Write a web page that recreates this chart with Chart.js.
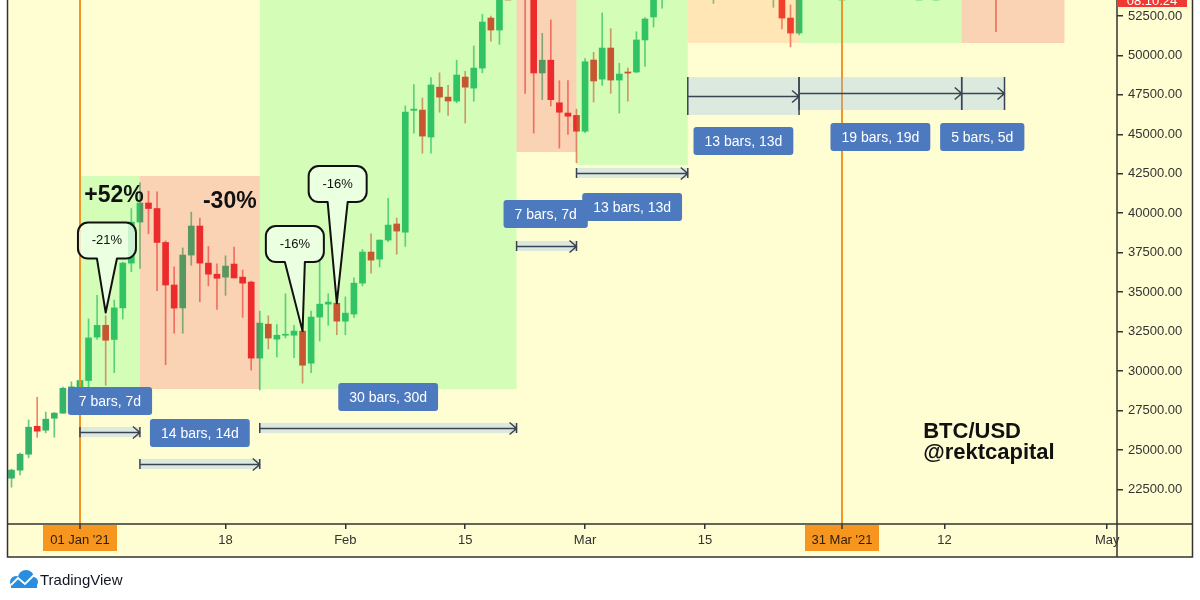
<!DOCTYPE html>
<html>
<head>
<meta charset="utf-8">
<title>BTC/USD daily - rektcapital</title>
<script src="https://cdn.jsdelivr.net/npm/chart.js@4.4.1/dist/chart.umd.min.js"></script>
<style>
    html, body { margin: 0; padding: 0; background: #ffffff; }
    canvas { display: block; }
</style>
</head>
<body>
<canvas id="btcChart" width="1200" height="600"></canvas>
<script>
// --- Candle data (daily, first candle 24 Dec 2020) ---
const firstDate = '2020-12-24';
const opens = [
    23210, 23720, 24730, 26500, 26250, 27010, 27330, 28910,
    29000, 29400, 32150, 32900, 32000, 34000, 36840, 39440, 40650, 40300, 38150, 35450, 34000, 37350, 39190, 36840,
    36140, 35950, 36780, 35950, 35640, 30820, 32970, 32020, 32270, 32270, 32530, 30500, 33420, 34240, 34300,
    33160, 33610, 35570, 37540, 37090, 38300, 39320, 38800, 46520, 46540, 44830, 47990, 47360, 47110, 48630, 47930,
    49200, 52370, 51610, 55900, 55850, 57450, 54100, 48890, 49700, 47000, 46350, 46200,
    45200, 49710, 48500, 50470, 48440, 48950, 48950, 50980, 52440, 54900, 55900, 57800, 57300, 61200, 59000, 55600,
    56900, 58900, 57700, 58300, 58100, 57400, 54100, 54300, 52370, 51420, 55100, 55900, 55800, 57600, 58800,
    58800, 58700, 59000, 57100, 58200, 59100, 58000, 56000, 58100, 58100, 59800, 59800, 60000, 63600, 62900, 63200,
    61400, 60000
];
const highs = [
    23780, 24800, 26900, 28340, 27400, 27380, 28990, 29320,
    29600, 33300, 34800, 33500, 34500, 36900, 40300, 41950, 41400, 41350, 38250, 36600, 37800, 40070, 39700, 37900,
    36800, 37300, 37850, 36400, 35700, 33800, 33500, 32950, 34900, 32900, 32550, 33800, 37000, 34900, 34400,
    34700, 35900, 37700, 38700, 38300, 40950, 39700, 46800, 48150, 47300, 48600, 48900, 48100, 49700, 49000, 50600,
    52600, 52500, 56300, 57500, 58350, 57550, 54200, 51400, 52250, 48400, 48400, 46600,
    49800, 50200, 52700, 51700, 49500, 49200, 51500, 52400, 54900, 57400, 58100, 58000, 61800, 61700, 60600, 56900,
    58900, 60100, 59500, 59900, 58600, 58400, 55800, 57200, 53200, 55100, 56600, 56600, 58400, 59400, 59800,
    59500, 60000, 59800, 58500, 59200, 59500, 58600, 58200, 58900, 61200, 60700, 61200, 63800, 64900, 63800, 63500,
    62500, 60400
];
const lows = [
    22640, 23420, 24500, 25800, 26080, 25810, 27320, 27950,
    28800, 28950, 32000, 29100, 29900, 33300, 36300, 36500, 38700, 35100, 30400, 32400, 32400, 36700, 34400, 35400,
    33900, 34800, 35900, 33400, 30060, 28800, 31400, 30900, 32100, 30850, 29230, 29900, 31900, 32900, 32300,
    32300, 33400, 35400, 36200, 36600, 38200, 37400, 37900, 45080, 43800, 43800, 46400, 46200, 47000, 45720, 47100,
    48900, 50900, 50700, 53900, 55500, 47600, 45080, 47200, 46800, 44130, 45000, 43200,
    45100, 47050, 48100, 47600, 46350, 47100, 48900, 49300, 51800, 53000, 54300, 55000, 56100, 59000, 54600, 53300,
    54100, 57000, 57200, 57800, 55500, 53900, 53050, 51680, 50540, 51300, 54000, 54700, 54900, 57000, 56900,
    57900, 58500, 56900, 56600, 56500, 57600, 55500, 55800, 57700, 57900, 59000, 59400, 59900, 61300, 62100, 60000,
    59600, 51500
];
const closes = [
    23720, 24730, 26440, 26190, 26950, 27330, 28910, 29000,
    29400, 32100, 32900, 31950, 34000, 36840, 39440, 40650, 40300, 38150, 35450, 33990, 37350, 39190, 36840, 36140,
    35880, 36650, 35900, 35570, 30820, 33040, 32090, 32270, 32300, 32530, 30370, 33420, 34240, 34370, 33160,
    33670, 35570, 37540, 37030, 38300, 39250, 38870, 46410, 46600, 44890, 48130, 47360, 47110, 48760, 47990, 49200,
    52120, 51610, 55900, 55850, 57450, 54100, 48890, 49700, 47200, 46400, 46150, 45200,
    49600, 48380, 50470, 48440, 48820, 48880, 50980, 52310, 54900, 55900, 57800, 57300, 61200, 59000, 55600, 56900,
    58900, 57700, 58300, 58100, 57400, 54100, 54300, 52370, 51420, 55100, 55900, 55800, 57600, 58800, 58800,
    58700, 59000, 57100, 58200, 59100, 58000, 56000, 58100, 58100, 59800, 59800, 60000, 63600, 62900, 63200, 61400,
    60000, 56200
];

// --- Axis ticks (day 0 = 1 Jan 2021) ---
const tickDays = [17, 31, 45, 59, 73, 101, 120];
const tickNames = ['18', 'Feb', '15', 'Mar', '15', '12', 'May'];
const markDays = [0, 89];
const markNames = ["01 Jan '21", "31 Mar '21"];
const priceTicks = [22500, 25000, 27500, 30000, 32500, 35000, 37500, 40000, 42500, 45000, 47500, 50000, 52500];

// --- Shaded zones ---
const zoneFrom = [0, 7, 21, 51, 58, 71, 84, 103];
const zoneTo = [7, 21, 51, 58, 71, 84, 103, 115];
const zoneTop = [42360, 42360, 60000, 60000, 60000, 60000, 60000, 60000];
const zoneBottom = [28860, 28860, 28860, 43880, 43060, 50790, 50790, 50790];
const zoneKind = ['up', 'down', 'up', 'down', 'up', 'flat', 'up', 'down'];

// --- Date ranges ---
const rangeFrom = [0, 7, 21, 51, 58, 71, 84, 103];
const rangeTo = [7, 21, 51, 58, 71, 84, 103, 108];
const rangeLine = [26130, 24110, 26390, 37925, 42550, 47430, 47620, 47620];
const rangeBandTop = [26450, 24430, 26710, 38245, 42870, 48630, 48630, 48630];
const rangeBandBottom = [25810, 23790, 26070, 37605, 42230, 46230, 46540, 46540];
const rangeText = ['7 bars, 7d', '14 bars, 14d', '30 bars, 30d', '7 bars, 7d', '13 bars, 13d', '13 bars, 13d', '19 bars, 19d', '5 bars, 5d'];
const rangeLabelDay = [3.5, 14, 36, 54.4, 64.5, 77.5, 93.5, 105.4];
const rangeLabelPrice = [28100, 26070, 28360, 39950, 40400, 44580, 44830, 44830];

// --- Callouts and texts ---
const calloutText = ['-21%', '-16%', '-16%'];
const calloutTipDay = [3, 26, 30];
const calloutTipPrice = [33700, 32530, 34300];
const calloutBoxDay = [3.15, 25.1, 30.1];
const calloutBoxPrice = [38270, 38050, 41850];
const moveText = ['+52%', '-30%'];
const moveDay = [3.97, 17.5];
const movePrice = [41090, 40710];
const signText = ['BTC/USD', '@rektcapital'];
const signDay = 98.5;
const signPrice = [25760, 24430];

const FONT = '"Liberation Sans", Arial, sans-serif';
const paperColor = 'rgb(255,253,210)';
const upColor = 'rgb(52,180,105)';
const downColor = 'rgb(238,45,40)';
const markColor = 'rgb(240,150,40)';
const tagColor = '#4d7abf';
const zoneColors = {
    up: 'rgba(40,255,80,0.2)',
    down: 'rgba(230,40,60,0.2)',
    flat: 'rgba(255,140,60,0.2)'
};

function dayOf(s) {
    return (Date.parse(s) - Date.parse('2021-01-01')) / 86400000;
}

function roundRect(c, l, t, w, h, r) {
    c.beginPath();
    c.moveTo(l + r, t);
    c.arcTo(l + w, t, l + w, t + h, r);
    c.arcTo(l + w, t + h, l, t + h, r);
    c.arcTo(l, t + h, l, t, r);
    c.arcTo(l, t, l + w, t, r);
    c.closePath();
}

function drawTag(c, text, cx, cy) {
    c.font = '14px ' + FONT;
    const w = c.measureText(text).width + 22;
    const h = 28;
    roundRect(c, cx - w / 2, cy - h / 2, w, h, 3);
    c.fillStyle = tagColor;
    c.fill();
    c.fillStyle = '#ffffff';
    c.textAlign = 'center';
    c.textBaseline = 'middle';
    c.fillText(text, cx, cy + 1);
}

const overlayPlugin = {
    id: 'overlay',
    beforeDraw(chart) {
        const c = chart.ctx;
        const a = chart.chartArea;
        c.save();
        c.fillStyle = '#ffffff';
        c.fillRect(0, 0, chart.width, chart.height);
        c.fillStyle = paperColor;
        c.fillRect(a.left - 1, 0, chart.scales.y.right - a.left + 1, chart.scales.x.bottom);
        c.restore();
    },
    afterDatasetsDraw(chart) {
        const c = chart.ctx;
        const a = chart.chartArea;
        const x = chart.scales.x;
        const y = chart.scales.y;

        c.save();
        c.beginPath();
        c.rect(a.left, a.top, a.right - a.left, a.bottom - a.top);
        c.clip();

        // zones sit over the candles
        zoneFrom.forEach((d, i) => {
            const x0 = x.getPixelForValue(d);
            const x1 = x.getPixelForValue(zoneTo[i]);
            const y0 = y.getPixelForValue(zoneTop[i]);
            const y1 = y.getPixelForValue(zoneBottom[i]);
            c.fillStyle = zoneColors[zoneKind[i]];
            c.fillRect(x0, y0, x1 - x0, y1 - y0);
        });

        // vertical session lines
        c.strokeStyle = markColor;
        c.lineWidth = 2;
        markDays.forEach(d => {
            const px = Math.round(x.getPixelForValue(d));
            c.beginPath();
            c.moveTo(px, a.top);
            c.lineTo(px, a.bottom);
            c.stroke();
        });

        // date range tools
        rangeFrom.forEach((d, i) => {
            const x0 = x.getPixelForValue(d);
            const x1 = x.getPixelForValue(rangeTo[i]);
            const yt = y.getPixelForValue(rangeBandTop[i]);
            const yb = y.getPixelForValue(rangeBandBottom[i]);
            const yl = Math.round(y.getPixelForValue(rangeLine[i])) + 0.5;
            c.fillStyle = 'rgba(140,190,255,0.3)';
            c.fillRect(x0, yt, x1 - x0, yb - yt);
            c.strokeStyle = '#3b4350';
            c.lineWidth = 1.5;
            c.beginPath();
            c.moveTo(x0, yt); c.lineTo(x0, yb);
            c.moveTo(x1, yt); c.lineTo(x1, yb);
            c.moveTo(x0, yl); c.lineTo(x1, yl);
            c.moveTo(x1 - 7, yl - 6); c.lineTo(x1, yl); c.lineTo(x1 - 7, yl + 6);
            c.stroke();
        });
        c.restore();

        c.save();
        // blue range labels (second Feb label last so it stays on top)
        [0, 1, 2, 4, 3, 5, 6, 7].forEach(i => {
            drawTag(c, rangeText[i], x.getPixelForValue(rangeLabelDay[i]), y.getPixelForValue(rangeLabelPrice[i]));
        });

        // callouts
        calloutText.forEach((t, i) => {
            const tx = x.getPixelForValue(calloutTipDay[i]);
            const ty = y.getPixelForValue(calloutTipPrice[i]);
            const bx = x.getPixelForValue(calloutBoxDay[i]);
            const by = y.getPixelForValue(calloutBoxPrice[i]);
            const w = 58, h = 36, r = 10;
            const l = bx - w / 2, rt = bx + w / 2, tp = by - h / 2, bt = by + h / 2;
            c.beginPath();
            c.moveTo(l + r, tp);
            c.lineTo(rt - r, tp);
            c.arcTo(rt, tp, rt, tp + r, r);
            c.lineTo(rt, bt - r);
            c.arcTo(rt, bt, rt - r, bt, r);
            c.lineTo(bx + 10, bt);
            c.lineTo(tx, ty);
            c.lineTo(bx - 10, bt);
            c.lineTo(l + r, bt);
            c.arcTo(l, bt, l, bt - r, r);
            c.lineTo(l, tp + r);
            c.arcTo(l, tp, l + r, tp, r);
            c.closePath();
            c.fillStyle = 'rgba(240,255,235,0.8)';
            c.fill();
            c.strokeStyle = '#111111';
            c.lineWidth = 2;
            c.lineJoin = 'round';
            c.stroke();
            c.fillStyle = '#111111';
            c.font = '13px ' + FONT;
            c.textAlign = 'center';
            c.textBaseline = 'middle';
            c.fillText(t, bx, by);
        });

        // move percentages
        c.font = 'bold 23px ' + FONT;
        c.fillStyle = '#111111';
        c.textAlign = 'center';
        c.textBaseline = 'middle';
        moveText.forEach((t, i) => {
            c.fillText(t, x.getPixelForValue(moveDay[i]), y.getPixelForValue(movePrice[i]));
        });

        // signature
        c.font = 'bold 22px ' + FONT;
        c.textAlign = 'left';
        c.textBaseline = 'alphabetic';
        signText.forEach((t, i) => {
            c.fillText(t, x.getPixelForValue(signDay), y.getPixelForValue(signPrice[i]));
        });
        c.restore();
    },
    afterDraw(chart) {
        const c = chart.ctx;
        const a = chart.chartArea;
        const x = chart.scales.x;
        const y = chart.scales.y;
        c.save();

        // frame and axis lines
        c.strokeStyle = '#333333';
        c.lineWidth = 1.5;
        c.beginPath();
        c.moveTo(a.left - 0.5, 0); c.lineTo(a.left - 0.5, x.bottom);
        c.lineTo(y.right - 0.5, x.bottom); c.lineTo(y.right - 0.5, 0);
        c.moveTo(a.left, a.bottom); c.lineTo(y.right, a.bottom);
        c.moveTo(a.right, 0); c.lineTo(a.right, x.bottom);
        c.stroke();

        // orange date marks on the time axis
        c.font = '13px ' + FONT;
        c.textAlign = 'center';
        c.textBaseline = 'middle';
        markDays.forEach((d, i) => {
            const px = Math.round(x.getPixelForValue(d));
            c.fillStyle = 'rgb(247,150,30)';
            c.fillRect(px - 37, a.bottom + 1, 74, 26);
            c.fillStyle = '#2b1d0e';
            c.fillText(markNames[i], px, a.bottom + 16);
            c.strokeStyle = '#333333';
            c.lineWidth = 1.5;
            c.beginPath();
            c.moveTo(px, a.bottom);
            c.lineTo(px, a.bottom + 5);
            c.stroke();
        });

        // last price tag, mostly above the pane
        c.fillStyle = 'rgb(240,57,50)';
        c.fillRect(a.right, -14, 70, 21);
        c.fillStyle = '#ffffff';
        c.textBaseline = 'alphabetic';
        c.fillText('08:10:24', a.right + 35, 5);

        // TradingView logo
        const lx = a.left, ly = x.bottom + 22;
        c.fillStyle = '#2a8ee0';
        [[8, 3, 6], [18, -1, 8], [25, 3, 5]].forEach(p => {
            c.beginPath();
            c.arc(lx + p[0], ly + p[1], p[2], 0, Math.PI * 2);
            c.fill();
        });
        c.fillRect(lx + 3, ly + 2, 26, 7);
        c.strokeStyle = '#ffffff';
        c.lineWidth = 1.8;
        c.beginPath();
        c.moveTo(lx + 3, ly + 6);
        c.lineTo(lx + 10, ly - 1);
        c.lineTo(lx + 17, ly + 5);
        c.lineTo(lx + 26, ly - 4);
        c.stroke();
        c.fillStyle = '#131722';
        c.font = '15px ' + FONT;
        c.textAlign = 'left';
        c.fillText('TradingView', lx + 32, ly + 6);
        c.restore();
    }
};

document.addEventListener('DOMContentLoaded', function () {
    const start = dayOf(firstDate);
    const days = opens.map((_, i) => start + i);
    const rising = opens.map((o, i) => closes[i] >= o);

    const ctx = document.getElementById('btcChart');
    new Chart(ctx.getContext('2d'), {
        type: 'bar',
        data: {
            datasets: [{
                label: 'Wicks',
                data: days.map((d, i) => ({ x: d, y: [lows[i], highs[i]] })),
                backgroundColor: rising.map(r => r ? 'rgba(52,180,105,0.75)' : 'rgba(238,45,40,0.6)'),
                barThickness: 1,
                grouped: false,
                borderWidth: 0
            }, {
                label: 'Bodies',
                data: days.map((d, i) => ({ x: d, y: [opens[i], closes[i]] })),
                backgroundColor: rising.map(r => r ? upColor : downColor),
                barThickness: 6,
                minBarLength: 1,
                grouped: false,
                borderWidth: 0
            }]
        },
        options: {
            responsive: false,
            animation: false,
            events: [],
            layout: { padding: { left: 8, right: 7, top: 0, bottom: 43 } },
            plugins: {
                legend: { display: false },
                tooltip: { enabled: false }
            },
            scales: {
                x: {
                    type: 'linear',
                    min: -8.41,
                    max: 121.14,
                    offset: false,
                    border: { display: false },
                    grid: { offset: false, drawOnChartArea: false, drawTicks: true, tickLength: 5, color: '#333333', lineWidth: 1.5 },
                    ticks: {
                        autoSkip: false,
                        maxRotation: 0,
                        padding: 4,
                        color: '#333333',
                        font: { family: FONT, size: 13 },
                        callback: v => tickNames[tickDays.indexOf(v)]
                    },
                    afterBuildTicks: s => { s.ticks = tickDays.map(v => ({ value: v })); },
                    afterFit: s => { s.height = 33; s.paddingLeft = 0; s.paddingRight = 0; }
                },
                y: {
                    type: 'linear',
                    position: 'right',
                    min: 20307,
                    max: 53514,
                    border: { display: false },
                    grid: { drawOnChartArea: false, drawTicks: true, tickLength: 6, color: '#333333', lineWidth: 1.5 },
                    ticks: {
                        autoSkip: false,
                        padding: 5,
                        color: '#333333',
                        font: { family: FONT, size: 13 },
                        callback: v => v.toFixed(2)
                    },
                    afterBuildTicks: s => { s.ticks = priceTicks.map(v => ({ value: v })); },
                    afterFit: s => { s.width = 76; s.paddingTop = 0; s.paddingBottom = 0; }
                }
            }
        },
        plugins: [overlayPlugin]
    });
});
</script>
</body>
</html>
